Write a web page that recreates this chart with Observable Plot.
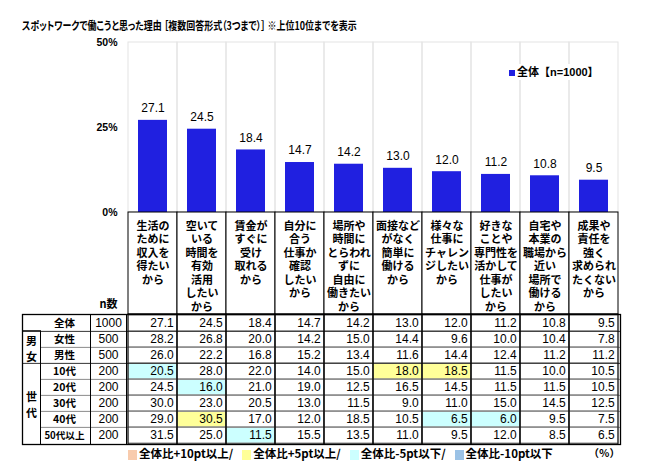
<!DOCTYPE html>
<html><head><meta charset="utf-8">
<script src="https://cdn.jsdelivr.net/npm/d3@7"></script>
<script src="https://cdn.jsdelivr.net/npm/@observablehq/plot@0.6"></script>
<style>
body{margin:0;background:#fff;}
#root{position:relative;width:645px;height:469px;overflow:hidden;font-family:"Liberation Sans","Noto Sans CJK JP",sans-serif;color:#000;}
.abs{position:absolute;}
#title{left:22px;top:18px;font-weight:bold;font-size:11.5px;font-family:"Noto Sans CJK JP",sans-serif;font-feature-settings:"palt";line-height:14px;white-space:nowrap;transform:scaleX(0.78);transform-origin:0 50%;}
#legend{left:506px;top:64px;background:#fff;padding:1px 3px;font-weight:bold;font-size:11px;font-family:"Liberation Sans","Noto Sans CJK JP",sans-serif;white-space:nowrap;line-height:14px;}
#legend i,#bottom i{display:inline-block;vertical-align:middle;}
#bottom{left:128px;top:446px;font-weight:bold;font-size:11.5px;font-family:"Noto Sans CJK JP",sans-serif;white-space:nowrap;line-height:14px;}
#unit{left:580px;top:446px;width:40px;text-align:right;font-weight:bold;font-size:10.5px;font-family:"Noto Sans CJK JP",sans-serif;line-height:14px;}
</style></head><body>
<div id="root">
  <div id="title" class="abs"></div>
  <div id="chartA" class="abs" style="left:0;top:30px"></div>
  <div id="chartB1" class="abs" style="left:0;top:211px"></div>
  <div id="chartB2" class="abs" style="left:0;top:313px"></div>
  <div id="legend" class="abs"></div>
  <div id="bottom" class="abs"></div>
  <div id="unit" class="abs"></div>
</div>
<script>
// ---------- data ----------
const titleText = "スポットワークで働こうと思った理由 ［複数回答形式（3つまで）］ ※上位10位までを表示";
const categories = [
  "生活の\nために\n収入を\n得たい\nから",
  "空いて\nいる\n時間を\n有効\n活用\nしたい\nから",
  "賃金が\nすぐに\n受け\n取れる\nから",
  "自分に\n合う\n仕事か\n確認\nしたい\nから",
  "場所や\n時間に\nとらわれ\nずに\n自由に\n働きたい\nから",
  "面接など\nがなく\n簡単に\n働ける\nから",
  "様々な\n仕事に\nチャレン\nジしたい\nから",
  "好きな\nことや\n専門性を\n活かして\n仕事が\nしたい\nから",
  "自宅や\n本業の\n職場から\n近い\n場所で\n働ける\nから",
  "成果や\n責任を\n強く\n求められ\nたくない\nから"
];
const totalValues = [27.1, 24.5, 18.4, 14.7, 14.2, 13.0, 12.0, 11.2, 10.8, 9.5];
const yTicks = [0, 25, 50];
const seriesLabel = "全体【n=1000】";

const rowLabels = ["全体", "女性", "男性", "10代", "20代", "30代", "40代", "50代以上"];
const rowN = [1000, 500, 500, 200, 200, 200, 200, 200];
const rowGroup = ["", "男女", "男女", "世代", "世代", "世代", "世代", "世代"];
const rowValues = [
  [27.1, 24.5, 18.4, 14.7, 14.2, 13.0, 12.0, 11.2, 10.8, 9.5],
  [28.2, 26.8, 20.0, 14.2, 15.0, 14.4, 9.6, 10.0, 10.4, 7.8],
  [26.0, 22.2, 16.8, 15.2, 13.4, 11.6, 14.4, 12.4, 11.2, 11.2],
  [20.5, 28.0, 22.0, 14.0, 15.0, 18.0, 18.5, 11.5, 10.0, 10.5],
  [24.5, 16.0, 21.0, 19.0, 12.5, 16.5, 14.5, 11.5, 11.5, 10.5],
  [30.0, 23.0, 20.5, 13.0, 11.5, 9.0, 11.0, 15.0, 14.5, 12.5],
  [29.0, 30.5, 17.0, 12.0, 18.5, 10.5, 6.5, 6.0, 9.5, 7.5],
  [31.5, 25.0, 11.5, 15.5, 13.5, 11.0, 9.5, 12.0, 8.5, 6.5]
];
const legendLabels = ["全体比+10pt以上/", "全体比+5pt以上/", "全体比-5pt以下/", "全体比-10pt以下"];
const unitLabel = "（％）";

// ---------- styles / layout ----------
const BLUE = "#2020e0";
const hlColors = ["#f8cbad", "#ffff99", "#ccffff", "#9bc2e6"];
const FONT = '"Liberation Sans","Noto Sans CJK JP",sans-serif';
const JFONT = '"Noto Sans CJK JP",sans-serif';
const W = 645, dataLeft = 126, dataRight = 620;
const groupW = 18, labelW = 50, nW = 36;
const tableLeft = dataLeft - groupW - labelW - nW;
const dataW = dataRight - dataLeft;
const bodyH = 130;
const rowH = bodyH / rowLabels.length;
const colW = dataW / categories.length;

function hl(diff) {
  if (diff >= 10) return hlColors[0];
  if (diff >= 5) return hlColors[1];
  if (diff <= -10) return hlColors[3];
  if (diff <= -5) return hlColors[2];
  return "white";
}

document.getElementById("title").textContent = titleText;
document.getElementById("legend").innerHTML = `<i style="width:6px;height:6px;background:${BLUE};margin-right:2px"></i>${seriesLabel}`;
document.getElementById("bottom").innerHTML = legendLabels.map((l, i) =>
  `<i style="width:9px;height:10px;background:${hlColors[i]};margin:0 2px 0 ${i ? 9 : 0}px"></i>${l}`).join("");
document.getElementById("unit").textContent = unitLabel;

const totalData = categories.map((c, i) => ({cat: c, v: totalValues[i]}));

// ---------- bar chart ----------
const chartA = Plot.plot({
  width: W, height: 184, marginTop: 12, marginBottom: 2, marginLeft: dataLeft, marginRight: W - dataRight,
  style: {background: "transparent", overflow: "visible", fontFamily: FONT},
  x: {domain: categories, padding: 0, axis: null},
  y: {domain: [0, 50]},
  marks: [
    Plot.barY(categories, {x: d => d, y1: 0, y2: 50, fill: "none", stroke: "#e3e3e3"}),
    Plot.barY(totalData, {x: "cat", y: "v", fill: BLUE, insetLeft: 10, insetRight: 10}),
    Plot.text(totalData, {x: "cat", y: "v", text: d => d.v.toFixed(1), dy: -12, fontSize: 12, fill: "#000"}),
    Plot.axisY({ticks: yTicks, tickFormat: d => d + "%", tickSize: 0, tickPadding: 9, fontSize: 10.5, fontWeight: "bold", label: null})
  ]
});
document.getElementById("chartA").appendChild(chartA);

// ---------- header row ----------
const chartB1 = Plot.plot({
  width: W, height: 103, marginTop: 1, marginBottom: 0, marginLeft: dataLeft, marginRight: W - dataRight,
  style: {background: "transparent", overflow: "visible", fontFamily: JFONT},
  x: {domain: categories, padding: 0, axis: null},
  marks: [
    Plot.cell(categories, {x: d => d, fill: "white", stroke: "black"}),
    Plot.text(categories, {x: d => d, text: d => d, frameAnchor: "top", lineAnchor: "top", dy: 8, lineHeight: 1.22, fontSize: 11, fontWeight: "bold", fill: "#000"}),
    Plot.text(["n数"], {text: d => d, frameAnchor: "bottom-left", dx: -(nW / 2), dy: -7, textAnchor: "middle", fontSize: 11, fontWeight: "bold", fill: "#000"})
  ]
});
document.getElementById("chartB1").appendChild(chartB1);

// ---------- table body ----------
const cells = [];
rowLabels.forEach((r, ri) => categories.forEach((c, ci) => {
  const v = rowValues[ri][ci];
  cells.push({row: r, cat: c, v, color: ri === 0 ? "white" : hl(v - rowValues[0][ci])});
}));
const rowsData = rowLabels.map((r, i) => ({row: r, n: rowN[i], group: rowGroup[i]}));
const groupStartRows = rowsData.filter((d, i) => i > 0 && d.group !== rowsData[i - 1].group).map(d => d.row);
const innerRows = rowsData.filter((d, i) => i > 0 && d.group === rowsData[i - 1].group).map(d => d.row);
const groupGlyphs = [
  {row: "女性", text: "男"}, {row: "男性", text: "女"}, {row: "30代", text: "世\n代"}
];

const chartB2 = Plot.plot({
  width: W, height: bodyH + 2, marginTop: 1, marginBottom: 1, marginLeft: tableLeft, marginRight: W - dataRight,
  style: {background: "transparent", overflow: "visible", fontFamily: FONT},
  x: {domain: categories, range: [dataLeft, dataRight], padding: 0, axis: null},
  y: {domain: rowLabels, padding: 0, axis: null},
  marks: [
    Plot.cell(cells, {x: "cat", y: "row", fill: "color", stroke: "#8a8a8a"}),
    Plot.ruleY(innerRows, {y: d => d, dy: -rowH / 2, stroke: "#8a8a8a", insetLeft: groupW}),
    Plot.ruleY(groupStartRows, {y: d => d, dy: -rowH / 2, stroke: "#333"}),
    Plot.cell(categories, {x: d => d, fill: "none", stroke: "black"}),
    Plot.frame({stroke: "black", strokeWidth: 1.3}),
    Plot.frame({stroke: "black", insetLeft: groupW + labelW, insetRight: dataW}),
    Plot.frame({stroke: "black", insetRight: labelW + nW + dataW, insetTop: rowH}),
    Plot.text(cells, {x: "cat", y: "row", text: d => d.v.toFixed(1), textAnchor: "end", dx: colW / 2 - 4, fontSize: 12, fill: "#000"}),
    Plot.text(rowsData, {y: "row", text: "row", frameAnchor: "left", dx: groupW + labelW / 2 - 1, textAnchor: "middle",
      fontSize: d => d.row.length > 3 ? 9.6 : 10.5, fontWeight: "bold", fontFamily: JFONT, fill: "#000"}),
    Plot.text(rowsData, {y: "row", text: d => String(d.n), frameAnchor: "left", dx: groupW + labelW + nW / 2, textAnchor: "middle", fontSize: 12, fill: "#000"}),
    Plot.text(groupGlyphs, {y: "row", text: "text", frameAnchor: "left", dx: groupW / 2, textAnchor: "middle", lineHeight: 1.45, fontSize: 11, fontWeight: "bold", fontFamily: JFONT, fill: "#000"})
  ]
});
document.getElementById("chartB2").appendChild(chartB2);
</script>
</body></html>
